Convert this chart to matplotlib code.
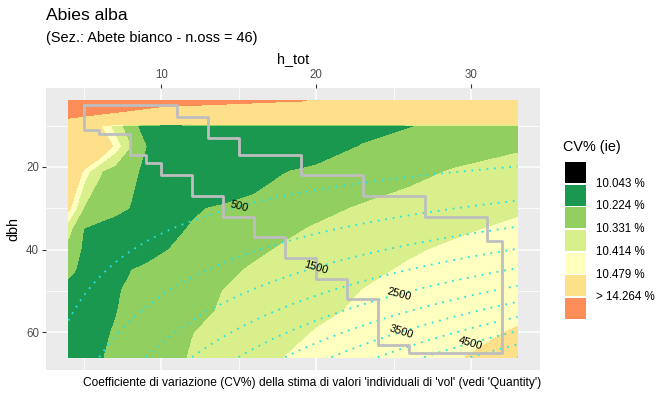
import numpy as np
import matplotlib
matplotlib.use("Agg")
import matplotlib.pyplot as plt
from matplotlib.patches import Rectangle

plt.rcParams["font.family"] = ["Liberation Sans", "DejaVu Sans"]

# ── data ─────────────────────────────────────────────────────────────────────
h_tot = [4, 5, 6, 7, 8, 9, 10, 12, 14, 16, 18, 20, 23, 26, 29, 33]
dbh = [4, 9.5, 10, 15, 21, 30, 35, 40, 45, 50, 55, 60, 66]

# CV% (ie), one row per dbh value, one column per h_tot value
cv = [
    [26.1, 22.0, 19.6, 18.06, 16.96, 16.15, 15.51, 15.18, 14.886, 14.628, 14.399, 14.2, 14.0, 13.8, 13.6, 13.4],
    [10.6, 10.6, 10.6, 10.6, 10.6, 10.6, 10.6, 10.6, 10.6, 10.6, 10.6, 10.6, 10.6, 10.6, 10.6, 10.6],
    [10.72, 10.60, 10.49, 10.378, 10.273, 10.163, 10.042, 10.07, 10.09, 10.11, 10.13, 10.15, 10.18, 10.218, 10.25, 10.29],
    [10.90, 10.75, 10.61, 10.457, 10.332, 10.225, 10.15, 10.08, 10.07, 10.09, 10.12, 10.16, 10.23, 10.26, 10.29, 10.32],
    [10.68, 10.457, 10.34, 10.293, 10.251, 10.20, 10.13, 10.07, 10.10, 10.16, 10.22, 10.244, 10.277, 10.309, 10.337, 10.36],
    [10.50, 10.324, 10.29, 10.255, 10.22, 10.18, 10.16, 10.212, 10.238, 10.262, 10.286, 10.31, 10.339, 10.359, 10.379, 10.405],
    [10.36, 10.22, 10.19, 10.17, 10.16, 10.17, 10.19, 10.232, 10.26, 10.289, 10.317, 10.338, 10.361, 10.383, 10.405, 10.425],
    [10.30, 10.205, 10.18, 10.17, 10.175, 10.19, 10.215, 10.253, 10.285, 10.317, 10.340, 10.357, 10.382, 10.407, 10.423, 10.44],
    [10.24, 10.205, 10.195, 10.205, 10.223, 10.239, 10.254, 10.285, 10.316, 10.340, 10.357, 10.375, 10.401, 10.421, 10.434, 10.452],
    [10.20, 10.206, 10.213, 10.22, 10.2296, 10.246, 10.263, 10.297, 10.332, 10.35, 10.369, 10.388, 10.415, 10.429, 10.443, 10.462],
    [10.19, 10.20, 10.21, 10.221, 10.238, 10.256, 10.274, 10.31, 10.339, 10.36, 10.381, 10.402, 10.423, 10.437, 10.452, 10.471],
    [10.185, 10.20, 10.213, 10.228, 10.248, 10.268, 10.289, 10.329, 10.352, 10.375, 10.397, 10.417, 10.433, 10.449, 10.468, 10.482],
    [10.18, 10.20, 10.218, 10.238, 10.259, 10.28, 10.30, 10.337, 10.363, 10.388, 10.4145, 10.425, 10.442, 10.458, 10.475, 10.50],
]

cv_breaks = [10.043, 10.224, 10.331, 10.414, 10.479, 14.264]
cv_labels = ["10.043 %", "10.224 %", "10.331 %", "10.414 %", "10.479 %", "> 14.264 %"]
cv_colors = ["#000000", "#1A9850", "#91CF60", "#D9EF8B", "#FFFFBF", "#FEE08B", "#FC8D59"]

# observed domain: dbh range for each h_tot class
h_edges_min = [5, 11, 13, 15, 19, 23, 27, 31, 32]
dbh_min = [5, 8, 13, 17, 22, 27, 32, 38]
h_edges_max = [5, 6, 8, 9, 10, 12, 14, 16, 18, 20, 22, 24, 26, 32]
dbh_max = [11, 12, 17, 19, 22, 27, 32, 37, 42, 47, 52, 63, 65]

# volume tariff (dm3) ~ coef * dbh^2 * h_tot
vol_coef = 0.0383
vol_levels = [500, 1000, 1500, 2000, 2500, 3000, 3500, 4000, 4500, 5000, 5500]
vol_labelled = [500, 1500, 2500, 3500, 4500]
vol_label_at = [(15, 29.5), (20, 44.9), (25.4, 51.5), (25.5, 60.2), (30, 62.9)]

title = "Abies alba"
subtitle = "(Sez.: Abete bianco - n.oss = 46)"
caption = "Coefficiente di variazione (CV%) della stima di valori 'individuali di 'vol' (vedi 'Quantity')"


def stairs(edges, vals):
    xs, ys = [], []
    for i, v in enumerate(vals):
        xs += [edges[i], edges[i + 1]]
        ys += [v, v]
    return xs, ys


# ── figure ───────────────────────────────────────────────────────────────────
W, H = 670, 397
fig = plt.figure(figsize=(W / 100, H / 100), dpi=100)
ax = fig.add_axes([46 / W, 1 - 370 / H, (540 - 46) / W, (370 - 88) / H])
ax.set_facecolor("#EBEBEB")
for s in ax.spines.values():
    s.set_visible(False)

ax.set_xticks([10, 20, 30])
ax.set_xticks([5, 15, 25], minor=True)
ax.set_yticks([20, 40, 60])
ax.set_yticks([10, 30, 50], minor=True)
ax.grid(which="major", color="white", lw=1.1)
ax.grid(which="minor", color="white", lw=0.55)
ax.set_axisbelow(True)
ax.tick_params(which="major", length=3, width=0.8, color="#333333",
               labelsize=8.3, labelcolor="#4D4D4D", pad=2)
ax.tick_params(which="minor", length=0)
ax.xaxis.tick_top()
ax.xaxis.set_label_position("top")

levels = [0] + cv_breaks + [100]
ax.contourf(h_tot, dbh, np.array(cv), levels=levels, colors=cv_colors)

hh, dd = np.meshgrid(np.linspace(h_tot[0], h_tot[-1], 120), np.linspace(dbh[0], dbh[-1], 120))
vol = vol_coef * dd ** 2 * hh
ax.contour(hh, dd, vol, levels=vol_levels, colors="#22E5E5",
           linewidths=1.3, linestyles=[(0, (1, 3.2))])
cs_lab = ax.contour(hh, dd, vol, levels=vol_labelled, colors="black", linewidths=0)
ax.clabel(cs_lab, manual=vol_label_at, inline=False,
          fontsize=8, colors="black", fmt="%d")

xu, yu = stairs(h_edges_min, dbh_min)
xl, yl = stairs(h_edges_max, dbh_max)
px = xu + xl[::-1] + [xu[0]]
py = yu + yl[::-1] + [yu[0]]
ax.plot(px, py, color="#BEBEBE", lw=2)

ax.set_xlim(2.55, 34.45)
ax.set_ylim(69.1, 0.9)
ax.set_xlabel("h_tot", fontsize=10.4, labelpad=4)
ax.set_ylabel("dbh", fontsize=10.4, labelpad=4)

fig.text(46 / W, 1 - 15 / H, title, fontsize=12.6, va="center", ha="left")
fig.text(46 / W, 1 - 38 / H, subtitle, fontsize=10.45, va="center", ha="left")
fig.text(541 / W, 1 - 383 / H, caption, fontsize=8.65, va="center", ha="right")

# legend drawn by hand: labels sit at the boundaries between keys
lax = fig.add_axes([565 / W, 1 - 320 / H, 21 / W, (320 - 161) / H])
lax.set_xlim(0, 1)
lax.set_ylim(len(cv_colors), 0)
lax.axis("off")
for i, c in enumerate(cv_colors):
    lax.add_patch(Rectangle((0, i + 0.04), 1, 0.92, color=c, lw=0))
for i, lab in enumerate(cv_labels):
    lax.text(1.5, i + 1, lab, fontsize=8.3, va="center", ha="left")
fig.text(563 / W, 1 - 147 / H, "CV% (ie)", fontsize=10.4, va="center", ha="left")

fig.savefig("out.png", dpi=100)
